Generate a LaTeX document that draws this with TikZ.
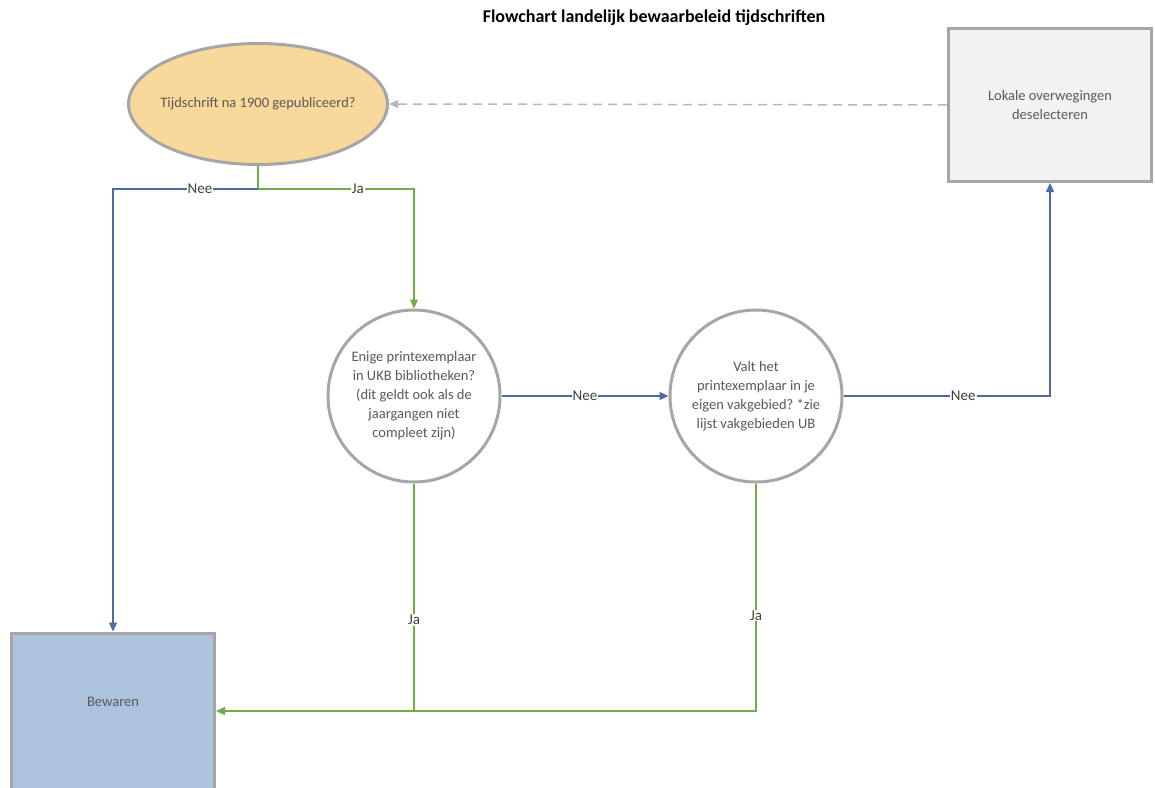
\documentclass[tikz,border=0pt]{standalone}
\usepackage{fontspec}
\setmainfont{Carlito}
\usetikzlibrary{arrows.meta}
\usetikzlibrary{shapes.geometric}
\definecolor{neeblue}{HTML}{4A6EA2}
\definecolor{jagreen}{HTML}{70AD47}
\definecolor{rimgray}{HTML}{A6A6A6}
\definecolor{txtgray}{HTML}{595959}
\definecolor{lblgray}{HTML}{404040}
\definecolor{vraagfill}{HTML}{F8D99B}
\definecolor{bewaarfill}{HTML}{ADC2DC}
\definecolor{lokaalfill}{HTML}{F2F2F2}
\newcommand{\vraagtekst}[1]{\fontsize{14.5}{19}\selectfont #1}
\frenchspacing

\begin{document}
\begin{tikzpicture}[x=1pt, y=-1pt,
                    every node/.style={text=txtgray, font=\vraagtekst{}},
                    vraag/.style={draw=rimgray, line width=3pt, ellipse,
                        fill=vraagfill, minimum width=259pt, minimum height=121pt,
                        inner xsep=-10pt, inner ysep=0pt},
                    keuze/.style={draw=rimgray, line width=3pt, circle,
                        fill=white, minimum size=172pt, inner sep=0pt, align=center},
                    blok/.style={draw=rimgray, line width=3pt, rectangle,
                        minimum width=203pt, minimum height=153pt, align=center},
                    lbl/.style={fill=white, text=lblgray, inner sep=1pt,
                        font=\fontsize{15}{17}\selectfont},
                    nee/.style={draw=neeblue, line width=1.2pt,
                        -{Triangle[length=9pt,width=8pt]}},
                    ja/.style={draw=jagreen, line width=1.2pt,
                        -{Triangle[length=9pt,width=8pt]}},
                    terug/.style={draw=rimgray!80, line width=1.5pt, dash pattern=on 9pt off 6pt,
                        -{Triangle[length=9pt,width=8pt]}}]
    \useasboundingbox (0,0) rectangle (1155,787);

    \node[text=black, font=\bfseries\fontsize{18}{20}\selectfont] (titel) at (654,18)
        {Flowchart landelijk bewaarbeleid tijdschriften};

    \node[vraag] (jaar) at (258,104) {Tijdschrift na 1900 gepubliceerd?};
    \node[blok, fill=lokaalfill] (lokaal) at (1050,105) {Lokale overwegingen\\deselecteren};
    \node[keuze] (ukb) at (414,396)
        {Enige printexemplaar\\in UKB bibliotheken?\\(dit geldt ook als de\\jaargangen niet\\compleet zijn)};
    \node[keuze] (vak) at (756,396)
        {Valt het\\printexemplaar in je\\eigen vakgebied? *zie\\lijst vakgebieden UB};
    \node[blok, fill=bewaarfill, minimum height=176pt] (bewaren) at (113,721)
        {\raisebox{15pt}[0pt][0pt]{Bewaren}};

    \coordinate (splits) at (258,189);
    \coordinate (samen) at (414,711);

    % eerste vraag
    \draw[jagreen, line width=1.2pt] (jaar.south) -- (splits);
    \draw[nee] (splits) -| node[lbl, pos=0.2] {Nee} (bewaren.north);
    \draw[ja] (splits) -| node[lbl, pos=0.32] {Ja} (ukb.north);

    % UKB
    \draw[nee] (ukb.east) -- node[lbl, pos=0.5] {Nee} (vak.west);
    \draw[jagreen, line width=1.2pt] (ukb.south) -- node[lbl, pos=0.6] {Ja} (samen);

    % vakgebied
    \draw[nee] (vak.east) -| node[lbl, pos=0.29] {Nee} (lokaal.south);
    \draw[ja] (vak.south) |- node[lbl, pos=0.29] {Ja} (samen -| bewaren.east);

    % terug naar begin
    \draw[terug] (lokaal.west) -- (jaar.east);
\end{tikzpicture}
\end{document}
